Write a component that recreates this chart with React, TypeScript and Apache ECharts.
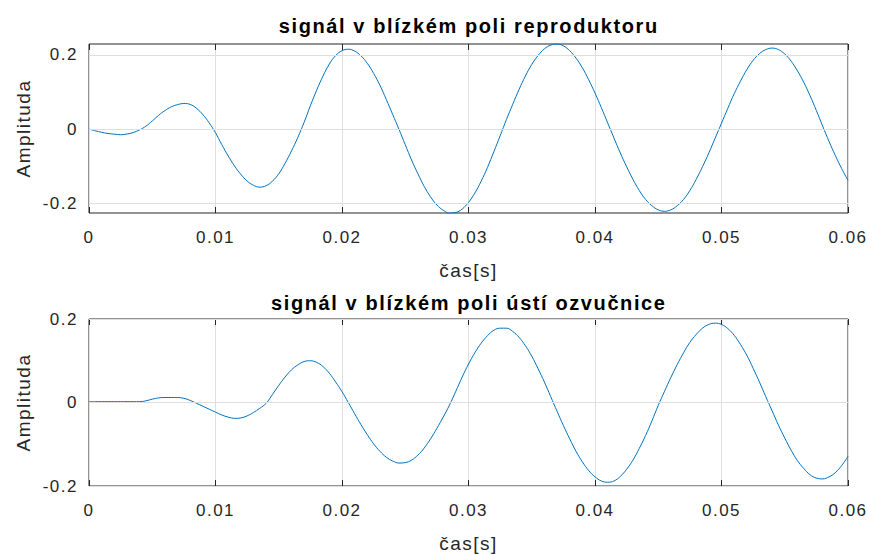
import React, { useEffect, useRef } from 'react';
import * as echarts from 'echarts';

const SAMPLE_STEP_S = 0.0005;
const X_MIN = 0;
const X_MAX = 0.06;
const X_INTERVAL = 0.01;

const TITLE_TOP = 'signál v blízkém poli reproduktoru';
const TITLE_BOTTOM = 'signál v blízkém poli ústí ozvučnice';
const X_NAME = 'čas[s]';
const Y_NAME = 'Amplituda';

const TOP_Y_RANGE = [-0.2255, 0.229];
const BOTTOM_Y_RANGE = [-0.2, 0.2];
const Y_TICKS = [-0.2, 0, 0.2];

// near field of the driver, sampled every 0.5 ms from 0 to 60 ms
const topValues = [
  0, -0.0045, -0.0085, -0.0116, -0.0135, -0.015, -0.013, -0.009, -0.002, 0.008,
  0.022, 0.037, 0.050, 0.060, 0.066, 0.069, 0.0665, 0.0560, 0.0391, 0.0169,
  -0.0097, -0.0417, -0.0718, -0.0988, -0.1215, -0.1395, -0.151, -0.156, -0.152, -0.140,
  -0.120, -0.092, -0.059, -0.023, 0.018, 0.063, 0.105, 0.143, 0.175, 0.198,
  0.211, 0.215, 0.210, 0.197, 0.177, 0.150, 0.118, 0.080, 0.040, 0,
  -0.042, -0.083, -0.120, -0.154, -0.182, -0.204, -0.218, -0.226, -0.224, -0.215,
  -0.197, -0.172, -0.140, -0.103, -0.061, -0.018, 0.026, 0.067, 0.107, 0.143,
  0.174, 0.198, 0.216, 0.226, 0.229, 0.224, 0.211, 0.191, 0.165, 0.133,
  0.097, 0.058, 0.017, -0.024, -0.064, -0.101, -0.135, -0.165, -0.189, -0.206,
  -0.217, -0.221, -0.217, -0.206, -0.189, -0.165, -0.135, -0.101, -0.064, -0.024,
  0.016, 0.056, 0.095, 0.129, 0.160, 0.185, 0.203, 0.214, 0.218, 0.214,
  0.202, 0.183, 0.157, 0.126, 0.090, 0.050, 0.008, -0.033, -0.071, -0.106,
  -0.138,
];

// near field of the port, sampled every 0.5 ms from 0 to 60 ms
const bottomValues = [
  0.002, 0.002, 0.002, 0.002, 0.002, 0.002, 0.002, 0.002, 0.002, 0.004,
  0.008, 0.011, 0.012, 0.012, 0.012, 0.010, 0.005, -0.002, -0.009, -0.016,
  -0.023, -0.030, -0.035, -0.038, -0.037, -0.032, -0.024, -0.014, -0.002, 0.019,
  0.041, 0.061, 0.078, 0.090, 0.098, 0.100, 0.096, 0.086, 0.070, 0.049,
  0.026, 0, -0.027, -0.053, -0.077, -0.099, -0.117, -0.131, -0.140, -0.145,
  -0.144, -0.138, -0.126, -0.109, -0.087, -0.062, -0.035, -0.006, 0.027, 0.061,
  0.092, 0.119, 0.142, 0.160, 0.173, 0.178, 0.178, 0.170, 0.156, 0.136,
  0.111, 0.081, 0.049, 0.014, -0.021, -0.055, -0.087, -0.117, -0.142, -0.163,
  -0.178, -0.188, -0.191, -0.188, -0.177, -0.160, -0.138, -0.110, -0.079, -0.044,
  -0.007, 0.027, 0.060, 0.091, 0.119, 0.144, 0.163, 0.178, 0.187, 0.190,
  0.187, 0.177, 0.161, 0.139, 0.113, 0.082, 0.049, 0.014, -0.020, -0.054,
  -0.085, -0.114, -0.139, -0.158, -0.173, -0.181, -0.183, -0.178, -0.168, -0.151,
  -0.129,
];

const FONT = '"Liberation Sans", Arial, Helvetica, sans-serif';
const AX = '#262626';
const GRID = '#dfdfdf';
const LINE = '#0072BD';

const toPairs = (vals: number[]) => vals.map((v, i) => [+(i * SAMPLE_STEP_S).toFixed(4), v]);

const tickStyle = { show: true, inside: true, length: 6, lineStyle: { color: AX, width: 1 } };

function xAxes(gridIndex: number) {
  return [
    {
      type: 'value', gridIndex, position: 'bottom', min: X_MIN, max: X_MAX, interval: X_INTERVAL,
      axisLine: { show: false, onZero: false },
      axisTick: tickStyle,
      axisLabel: { show: true, color: AX, fontSize: 17, fontFamily: FONT, margin: 16 },
      splitLine: { show: true, lineStyle: { color: GRID, width: 1 } },
      name: X_NAME, nameLocation: 'middle', nameGap: 48,
      nameTextStyle: { color: AX, fontSize: 19, fontFamily: FONT },
    },
    {
      type: 'value', gridIndex, position: 'top', min: X_MIN, max: X_MAX, interval: X_INTERVAL,
      axisLine: { show: false, onZero: false },
      axisTick: tickStyle,
      axisLabel: { show: false },
      splitLine: { show: false },
    },
  ];
}

function yAxes(gridIndex: number, range: number[]) {
  return [
    {
      type: 'value', gridIndex, position: 'left', min: range[0], max: range[1],
      axisLine: { show: false, onZero: false },
      axisTick: { ...tickStyle, customValues: Y_TICKS },
      axisLabel: { show: true, color: AX, fontSize: 17, fontFamily: FONT, margin: 11, customValues: Y_TICKS },
      splitLine: { show: false },
      name: Y_NAME, nameLocation: 'middle', nameGap: 56,
      nameTextStyle: { color: AX, fontSize: 19, fontFamily: FONT },
    },
    {
      type: 'value', gridIndex, position: 'right', min: range[0], max: range[1],
      axisLine: { show: false, onZero: false },
      axisTick: { ...tickStyle, customValues: Y_TICKS },
      axisLabel: { show: false },
      splitLine: { show: false },
    },
  ];
}

const gridLines = {
  silent: true,
  symbol: 'none',
  label: { show: false },
  lineStyle: { color: GRID, width: 1, type: 'solid' },
  emphasis: { disabled: true },
  data: Y_TICKS.map((v) => ({ yAxis: v })),
};

export default function App() {
  const ref = useRef<HTMLDivElement>(null);
  useEffect(() => {
    document.body.style.margin = '0';
    if (!ref.current) return;
    const chart = echarts.init(ref.current, null, { renderer: 'svg' });
    chart.setOption({
      animation: false,
      backgroundColor: '#ffffff',
      title: [
        {
          text: TITLE_TOP, left: 468.8, top: 16, textAlign: 'center', padding: 0,
          textStyle: { color: '#000', fontSize: 20, fontWeight: 'bold', fontFamily: FONT },
        },
        {
          text: TITLE_BOTTOM, left: 468.8, top: 293, textAlign: 'center', padding: 0,
          textStyle: { color: '#000', fontSize: 20, fontWeight: 'bold', fontFamily: FONT },
        },
      ],
      grid: [
        { left: 89, top: 44, width: 759, height: 169, show: true, borderColor: AX, borderWidth: 1, backgroundColor: 'transparent' },
        { left: 89, top: 319, width: 759, height: 168, show: true, borderColor: AX, borderWidth: 1, backgroundColor: 'transparent' },
      ],
      xAxis: [...xAxes(0), ...xAxes(1)],
      yAxis: [...yAxes(0, TOP_Y_RANGE), ...yAxes(1, BOTTOM_Y_RANGE)],
      series: [
        {
          type: 'line', xAxisIndex: 0, yAxisIndex: 0, data: toPairs(topValues),
          showSymbol: false, smooth: 0.4, clip: true, z: 3,
          lineStyle: { color: LINE, width: 1 },
          markLine: gridLines,
        },
        {
          type: 'line', xAxisIndex: 2, yAxisIndex: 2, data: toPairs(bottomValues),
          showSymbol: false, smooth: 0.4, clip: true, z: 3,
          lineStyle: { color: LINE, width: 1 },
          markLine: gridLines,
        },
      ],
    });
    return () => chart.dispose();
  }, []);
  return (
    <>
      <style>{`#chart text{letter-spacing:1.5px} #chart text[style*="bold"]{letter-spacing:1.6px}`}</style>
      <div id="chart" ref={ref} style={{ width: 872, height: 554 }} />
    </>
  );
}
